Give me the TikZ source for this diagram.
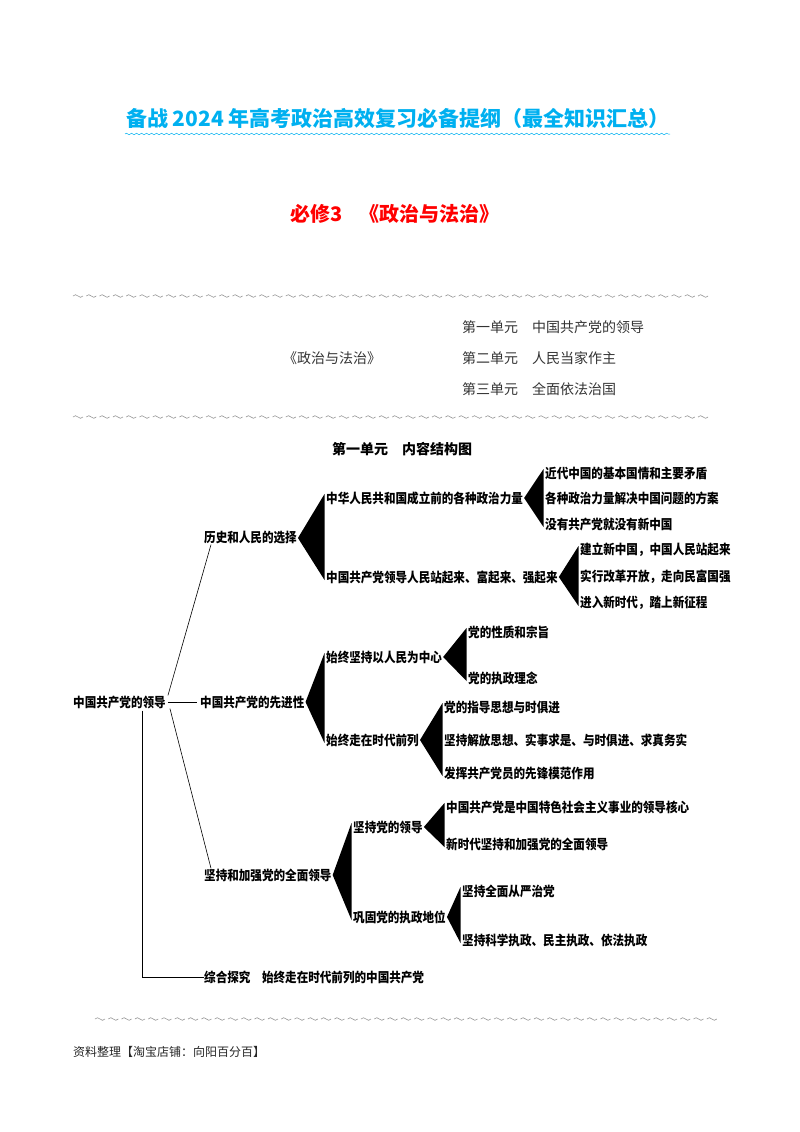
\documentclass[tikz,border=0pt]{standalone}
\usepackage{fontspec}
\setmainfont{Noto Sans CJK SC}
\newfontfamily\diagfont[FakeStretch=0.87]{Noto Sans CJK SC}
\usetikzlibrary{decorations.pathmorphing}
\definecolor{titlecyan}{RGB}{0,176,240}
\definecolor{tildegrey}{RGB}{150,150,150}
\newcommand\tribrace[3]{\fill ([xshift=1pt]#1.east) -- ([xshift=-1.5pt,yshift=4pt]#2.west) -- ([xshift=-1.5pt,yshift=-3pt]#3.west) -- cycle;}
\begin{document}
\begin{tikzpicture}[x=1pt,y=-1pt,
  d/.style={font=\diagfont\fontsize{13.3}{14}\selectfont\bfseries, anchor=west, inner sep=0pt},
  tb/.style={font=\fontsize{14}{14}\selectfont, anchor=west, inner sep=0pt, text=black!80},
  ln/.style={line width=0.9pt},
  thinln/.style={line width=0.6pt},
  tl/.style={tildegrey, line width=0.6pt}]
\useasboundingbox (0,0) rectangle (800,1132);

% title
\node[font=\fontsize{21}{21}\selectfont\bfseries, text=titlecyan, inner sep=0pt] (title) at (398,118) {备战 2024 年高考政治高效复习必备提纲（最全知识汇总）};
\draw[titlecyan, line width=0.5pt, decorate, decoration={snake, amplitude=0.8pt, segment length=5pt}] (125,134) -- (670,134);

% subtitle
\node[font=\fontsize{20}{20}\selectfont\bfseries, text=red, inner sep=0pt] (sub) at (395,214) {必修3\hspace{16pt}《政治与法治》};

% tilde lines
\foreach \i in {0,...,47} {
  \draw[tl] ({73+13.3*\i},296) sin ++(2.5,-1.3) cos ++(2.5,1.3) sin ++(2.5,1.3) cos ++(2.5,-1.3);
  \draw[tl] ({73+13.3*\i},417) sin ++(2.5,-1.3) cos ++(2.5,1.3) sin ++(2.5,1.3) cos ++(2.5,-1.3);
}
\foreach \i in {0,...,46} {
  \draw[tl] ({95+13.3*\i},1019) sin ++(2.5,-1.3) cos ++(2.5,1.3) sin ++(2.5,1.3) cos ++(2.5,-1.3);
}

% table
\node[tb] (u1) at (462,327) {第一单元　中国共产党的领导};
\node[tb] (book) at (283,358) {《政治与法治》};
\node[tb] (u2) at (462,358) {第二单元　人民当家作主};
\node[tb] (u3) at (462,389) {第三单元　全面依法治国};

% heading
\node[font=\fontsize{14}{14}\selectfont\bfseries, inner sep=0pt] (head) at (402,449) {第一单元　内容结构图};

% diagram nodes
\node[d] (root) at (73,702) {中国共产党的领导};
\node[d] (a) at (204,538) {历史和人民的选择};
\node[d] (a1) at (326,498) {中华人民共和国成立前的各种政治力量};
\node[d] (a11) at (545,473) {近代中国的基本国情和主要矛盾};
\node[d] (a12) at (545,498) {各种政治力量解决中国问题的方案};
\node[d] (a13) at (545,524) {没有共产党就没有新中国};
\node[d] (a2) at (326,577) {中国共产党领导人民站起来、富起来、强起来};
\node[d] (a21) at (580,550) {建立新中国，中国人民站起来};
\node[d] (a22) at (580,577) {实行改革开放，走向民富国强};
\node[d] (a23) at (580,603) {进入新时代，踏上新征程};
\node[d] (b) at (200,702) {中国共产党的先进性};
\node[d] (b1) at (326,657) {始终坚持以人民为中心};
\node[d] (b11) at (468,632) {党的性质和宗旨};
\node[d] (b12) at (468,678) {党的执政理念};
\node[d] (b2) at (326,740) {始终走在时代前列};
\node[d] (b21) at (444,707) {党的指导思想与时俱进};
\node[d] (b22) at (444,740) {坚持解放思想、实事求是、与时俱进、求真务实};
\node[d] (b23) at (444,773) {发挥共产党员的先锋模范作用};
\node[d] (c) at (204,875) {坚持和加强党的全面领导};
\node[d] (c1) at (353,827) {坚持党的领导};
\node[d] (c11) at (446,807) {中国共产党是中国特色社会主义事业的领导核心};
\node[d] (c12) at (446,844) {新时代坚持和加强党的全面领导};
\node[d] (c2) at (353,917) {巩固党的执政地位};
\node[d] (c21) at (462,891) {坚持全面从严治党};
\node[d] (c22) at (462,940) {坚持科学执政、民主执政、依法执政};
\node[d] (dd) at (204,977) {综合探究　始终走在时代前列的中国共产党};

% footer
\node[font=\fontsize{12}{12}\selectfont, anchor=west, inner sep=0pt, text=black!85] (foot) at (73,1052) {资料整理【淘宝店铺：向阳百分百】};

% connectors
\draw[ln, shorten <=2pt, shorten >=3pt] (root.east) -- (b.west);
\draw[thinln] ([xshift=2pt]root.north east) -- ([xshift=7pt]a.south west);
\draw[thinln] ([xshift=4pt]root.south east) -- ([xshift=7pt]c.north west);
\draw[ln] ([xshift=-24pt,yshift=-2pt]root.south east) |- (dd.west);

% brace triangles
\tribrace{a}{a1}{a2}
\tribrace{a1}{a11}{a13}
\tribrace{a2}{a21}{a23}
\tribrace{b}{b1}{b2}
\tribrace{b1}{b11}{b12}
\tribrace{b2}{b21}{b23}
\tribrace{c}{c1}{c2}
\tribrace{c1}{c11}{c12}
\tribrace{c2}{c21}{c22}
\end{tikzpicture}
\end{document}
